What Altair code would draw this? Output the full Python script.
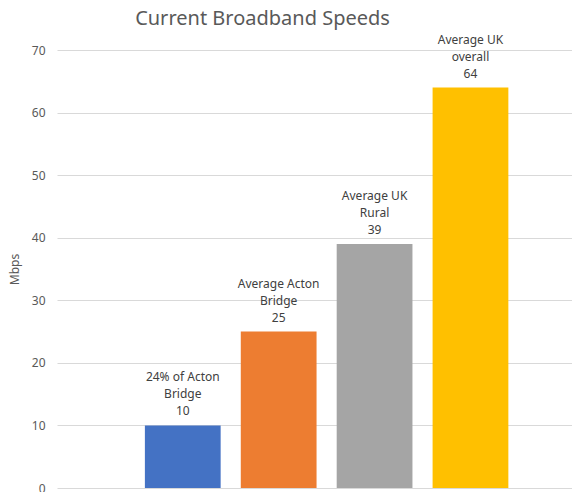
import altair as alt
import pandas as pd

categories = ["24% of Acton\nBridge", "Average Acton\nBridge", "Average UK\nRural", "Average UK\noverall"]
speeds = [10, 25, 39, 64]
colors = ["#4472C4", "#ED7D31", "#A5A5A5", "#FFC000"]

df = pd.DataFrame({"cat": categories, "speed": speeds, "color": colors})
df["label"] = df["cat"] + "\n" + df["speed"].astype(str)

FONT = "Noto Sans"

x = alt.X("cat:N", sort=categories, axis=None,
          scale=alt.Scale(paddingInner=0.21, paddingOuter=0.79, align=0.58))
y = alt.Y("speed:Q",
          scale=alt.Scale(domain=[0, 70]),
          axis=alt.Axis(values=[0, 10, 20, 30, 40, 50, 60, 70], title="Mbps",
                        domain=False, ticks=False, gridColor="#d9d9d9",
                        labelColor="#595959", labelFontSize=12, labelFont=FONT,
                        labelPadding=12, titleColor="#595959", titleFontSize=12,
                        titleFont=FONT, titleFontWeight="normal", titlePadding=10))

bars = alt.Chart(df).mark_bar().encode(
    x=x, y=y, color=alt.Color("color:N", scale=None)
)

labels = alt.Chart(df).mark_text(
    baseline="bottom", dy=-41, lineBreak="\n", lineHeight=17,
    fontSize=12, font=FONT, color="#404040"
).encode(x=x, y=alt.Y("speed:Q"), text="label:N")

chart = (bars + labels).properties(
    width=515, height=438,
    title=alt.TitleParams("Current Broadband Speeds", fontSize=20, font=FONT,
                          fontWeight="normal", color="#595959", dx=-52, offset=5),
    padding={"left": 0, "top": 0, "right": 0, "bottom": 0},
).configure_view(stroke=None)

chart.save("out.html", embed_options={"renderer": "svg", "actions": False})
